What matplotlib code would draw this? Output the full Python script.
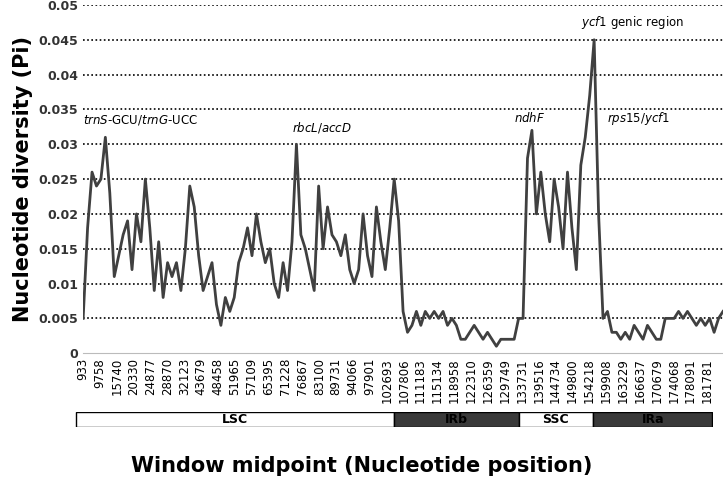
import matplotlib.pyplot as plt
import numpy as np

# Pi per sliding window
pi_values = [
    0.005, 0.018, 0.026, 0.024, 0.025, 0.031, 0.023, 0.011, 0.014, 0.017,
    0.019, 0.012, 0.020, 0.016, 0.025, 0.018, 0.009, 0.016, 0.008, 0.013,
    0.011, 0.013, 0.009, 0.015, 0.024, 0.021, 0.014, 0.009, 0.011, 0.013,
    0.007, 0.004, 0.008, 0.006, 0.008, 0.013, 0.015, 0.018, 0.014, 0.020,
    0.016, 0.013, 0.015, 0.010, 0.008, 0.013, 0.009, 0.016, 0.030, 0.017,
    0.015, 0.012, 0.009, 0.024, 0.015, 0.021, 0.017, 0.016, 0.014, 0.017,
    0.012, 0.010, 0.012, 0.020, 0.014, 0.011, 0.021, 0.016, 0.012, 0.018,
    0.025, 0.019, 0.006, 0.003, 0.004, 0.006, 0.004, 0.006, 0.005, 0.006,
    0.005, 0.006, 0.004, 0.005, 0.004, 0.002, 0.002, 0.003, 0.004, 0.003,
    0.002, 0.003, 0.002, 0.001, 0.002, 0.002, 0.002, 0.002, 0.005, 0.005,
    0.028, 0.032, 0.020, 0.026, 0.020, 0.016, 0.025, 0.021, 0.015, 0.026,
    0.018, 0.012, 0.027, 0.031, 0.037, 0.045, 0.020, 0.005, 0.006, 0.003,
    0.003, 0.002, 0.003, 0.002, 0.004, 0.003, 0.002, 0.004, 0.003, 0.002,
    0.002, 0.005, 0.005, 0.005, 0.006, 0.005, 0.006, 0.005, 0.004, 0.005,
    0.004, 0.005, 0.003, 0.005, 0.006,
]
tick_labels = [
    "933", "9758", "15740", "20330", "24877", "28870", "32123", "43679",
    "48458", "51965", "57109", "65395", "71228", "76867", "83100", "89731",
    "94066", "97901", "102693", "107806", "111183", "115134", "118958",
    "122310", "126359", "129749", "133731", "139516", "144734", "149800",
    "154218", "159908", "163229", "166637", "170679", "174068", "178091",
    "181781",
]
regions = ["LSC", "IRb", "SSC", "IRa"]
region_bounds = [-1.6, 70, 98, 114.8, 141.6]
region_colors = ["white", "#3a3a3a", "white", "#3a3a3a"]
annot_text = ["$\\it{trnS}$-GCU/$\\it{trnG}$-UCC", "$\\it{rbcL/accD}$",
              "$\\it{ndhF}$", "$\\it{ycf1}$ genic region", "$\\it{rps15/ycf1}$"]
annot_pos = [(0, 0.0325), (47, 0.0313), (97, 0.0328), (112, 0.0463), (118, 0.0325)]

fig = plt.figure(figsize=(7.23, 4.94), dpi=100)
ax = fig.add_axes([0.115, 0.285, 0.885, 0.705])
x = np.arange(len(pi_values))
ax.plot(x, pi_values, color="#404040", lw=2)
ax.set_xlim(0, len(pi_values) - 1)
ax.set_ylim(0, 0.05)
ax.set_yticks(np.arange(0, 0.0501, 0.005))
ax.set_yticklabels(["0"] + [f"{v:g}" for v in np.arange(0.005, 0.0501, 0.005)],
                   fontsize=9, fontweight="bold", color="#333333")
ax.set_xticks(np.linspace(0, 140.5, len(tick_labels)))
ax.set_xticklabels(tick_labels, rotation=90, fontsize=8.5)
ax.tick_params(length=0)
for v in np.arange(0.005, 0.0501, 0.005):
    ax.axhline(v, color="black", ls=(0, (1, 1.5)), lw=1.2, zorder=0)
for s in ["top", "right", "left"]:
    ax.spines[s].set_visible(False)
ax.spines["bottom"].set_color("#bbbbbb")
ax.set_ylabel("Nucleotide diversity (Pi)", fontsize=15, fontweight="bold")
for t, (px, py) in zip(annot_text, annot_pos):
    ax.text(px, py, t, fontsize=8.5, ha="left", va="bottom")

bar = fig.add_axes([0.115 + 0.885 * (-1.8 / 144), 0.135, 0.885 * 143.6 / 144, 0.03])
for name, a, b, c in zip(regions, region_bounds[:-1], region_bounds[1:], region_colors):
    bar.axvspan(a, b, color=c, ec="black", lw=1)
    bar.text((a + b) / 2, 0.5, name, ha="center", va="center", fontsize=9,
             fontweight="bold", color="black")
bar.set_xlim(region_bounds[0] - 0.2, region_bounds[-1] + 0.2)
bar.set_ylim(0, 1)
bar.axis("off")

fig.text(0.5, 0.045, "Window midpoint (Nucleotide position)", ha="center",
         fontsize=15, fontweight="bold")
fig.savefig("out.png", dpi=100)
